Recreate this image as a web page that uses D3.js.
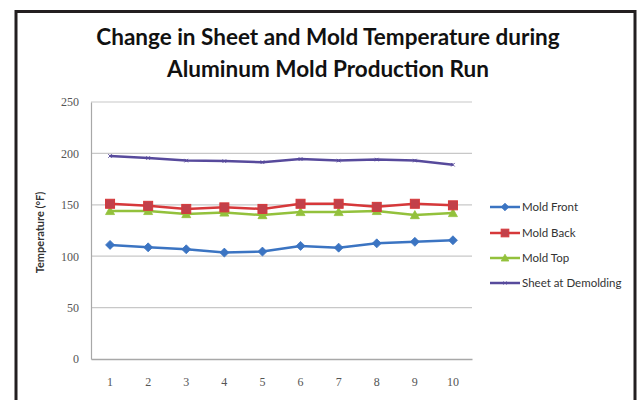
<!DOCTYPE html>
<html>
<head>
<meta charset="utf-8">
<script src="https://cdn.jsdelivr.net/npm/d3@7"></script>
<style>
  html, body { margin: 0; padding: 0; background: #ffffff; }
  svg { display: block; }
</style>
</head>
<body>
<svg id="chart" width="642" height="400"></svg>
<script>
// Run number along the x axis
const runs = ["1", "2", "3", "4", "5", "6", "7", "8", "9", "10"];

// Temperatures (°F) per run
const moldFront = [111, 108.6, 106.7, 103.5, 104.5, 110, 108.3, 112.5, 114, 115.5];
const moldBack  = [151, 149, 146, 147.5, 146, 151, 151, 148, 151, 149.5];
const moldTop   = [144, 144, 141, 142.5, 140, 143, 143, 144, 140, 142];
const sheetDemolding = [197.5, 195.5, 193, 192.5, 191.5, 194.5, 193, 194, 193, 189];

// y-axis ticks
const yTicks = [0, 50, 100, 150, 200, 250];

const seriesNames = ["Mold Front", "Mold Back", "Mold Top", "Sheet at Demolding"];
const seriesValues = [moldFront, moldBack, moldTop, sheetDemolding];
const seriesColors = ["#3b74c2", "#d6383a", "#93c13c", "#574a9c"];
const seriesMarkers = ["diamond", "square", "triangle", "cross"];

const svg = d3.select("#chart");

// outer frame
svg.append("rect")
  .attr("x", 16).attr("y", 11.5)
  .attr("width", 619).attr("height", 400)
  .attr("fill", "#ffffff")
  .attr("stroke", "#231f20").attr("stroke-width", 3);

// title
const title = svg.append("text")
  .attr("text-anchor", "middle")
  .attr("font-family", "Lato, 'Open Sans', sans-serif")
  .attr("font-weight", "bold")
  .attr("font-size", 22.5)
  .attr("fill", "#111");
title.append("tspan").attr("x", 328).attr("y", 45).text("Change in Sheet and Mold Temperature during");
title.append("tspan").attr("x", 328).attr("y", 77).text("Aluminum Mold Production Run");

const plot = { left: 91, right: 472, top: 102, bottom: 359 };

const x = d3.scaleBand().domain(runs).range([plot.left, plot.right]);
const y = d3.scaleLinear().domain([0, 250]).range([plot.bottom, plot.top]);

// gridlines
svg.append("g")
  .selectAll("line")
  .data(yTicks.filter(t => t > 0))
  .join("line")
  .attr("x1", plot.left).attr("x2", plot.right)
  .attr("y1", d => y(d)).attr("y2", d => y(d))
  .attr("stroke", "#c8c8c8").attr("stroke-width", 1.2);

// y axis
const yAxis = svg.append("g")
  .attr("transform", `translate(${plot.left},0)`)
  .call(d3.axisLeft(y).tickValues(yTicks).tickSize(0).tickPadding(12));
yAxis.select(".domain").attr("stroke", "#a8a8a8").attr("stroke-width", 1.2);
yAxis.selectAll("text")
  .attr("font-family", "'Liberation Serif', 'DejaVu Serif', serif")
  .attr("font-size", 12)
  .attr("fill", "#555");

// x axis
const xAxis = svg.append("g")
  .attr("transform", `translate(0,${plot.bottom})`)
  .call(d3.axisBottom(x).tickSize(0).tickPadding(18));
xAxis.select(".domain").attr("stroke", "#a8a8a8").attr("stroke-width", 1.5);
xAxis.selectAll("text")
  .attr("font-family", "'Liberation Serif', 'DejaVu Serif', serif")
  .attr("font-size", 12)
  .attr("fill", "#555");

// y-axis title
svg.append("text")
  .attr("transform", `translate(44,${(plot.top + plot.bottom) / 2 + 2}) rotate(-90)`)
  .attr("text-anchor", "middle")
  .attr("font-family", "Lato, 'Open Sans', sans-serif")
  .attr("font-weight", "bold")
  .attr("font-size", 11)
  .attr("fill", "#333")
  .text("Temperature (°F)");

// marker drawing
function drawMarker(g, type, color, cx, cy, s) {
  if (type === "diamond") {
    g.append("path")
      .attr("d", `M${cx},${cy - s}L${cx + s},${cy}L${cx},${cy + s}L${cx - s},${cy}Z`)
      .attr("fill", color).attr("stroke", color).attr("stroke-width", 0.8);
  } else if (type === "square") {
    g.append("rect")
      .attr("x", cx - s).attr("y", cy - s).attr("width", 2 * s).attr("height", 2 * s)
      .attr("fill", "#c2404a").attr("stroke", color).attr("stroke-width", 1);
  } else if (type === "triangle") {
    g.append("path")
      .attr("d", `M${cx},${cy - s}L${cx + s},${cy + s * 0.8}L${cx - s},${cy + s * 0.8}Z`)
      .attr("fill", color).attr("stroke", color).attr("stroke-width", 0.8);
  } else if (type === "cross") {
    const c = s * 0.7;
    g.append("path")
      .attr("d", `M${cx - c},${cy - c}L${cx + c},${cy + c}M${cx - c},${cy + c}L${cx + c},${cy - c}`)
      .attr("stroke", color).attr("stroke-width", 1);
  }
}

const line = d3.line()
  .x((d, i) => x(runs[i]) + x.bandwidth() / 2)
  .y(d => y(d));

const markerSize = [4.5, 4.5, 4.5, 2.5];

// series lines and markers, drawn back to front
[3, 2, 1, 0].forEach(k => {
  const g = svg.append("g");
  g.append("path")
    .datum(seriesValues[k])
    .attr("d", line)
    .attr("fill", "none")
    .attr("stroke", seriesColors[k])
    .attr("stroke-width", 2.5)
    .attr("stroke-linejoin", "round");
  seriesValues[k].forEach((v, i) => {
    drawMarker(g, seriesMarkers[k], seriesColors[k], x(runs[i]) + x.bandwidth() / 2, y(v), markerSize[k]);
  });
});

// legend
const legend = svg.append("g");
const legendY = [207, 233, 258, 283];
seriesNames.forEach((name, k) => {
  const g = legend.append("g");
  g.append("line")
    .attr("x1", 490).attr("x2", 520)
    .attr("y1", legendY[k]).attr("y2", legendY[k])
    .attr("stroke", seriesColors[k]).attr("stroke-width", 2.5);
  drawMarker(g, seriesMarkers[k], seriesColors[k], 505, legendY[k], markerSize[k] * 0.85);
  g.append("text")
    .attr("x", 522).attr("y", legendY[k] + 4)
    .attr("font-family", "Lato, 'Open Sans', sans-serif")
    .attr("font-size", 11.5)
    .attr("fill", "#333")
    .text(name);
});
</script>
</body>
</html>
